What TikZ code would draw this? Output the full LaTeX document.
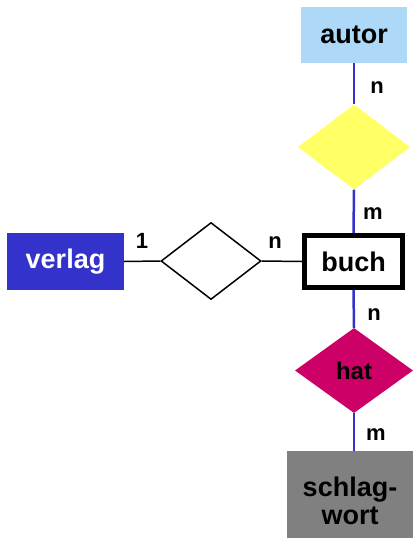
\documentclass[tikz,border=0pt]{standalone}
\usepackage{fontspec}
\setmainfont{Liberation Sans}
\usetikzlibrary{shapes.geometric}
\definecolor{autorblue}{HTML}{ADD8F8}
\definecolor{verlagblue}{HTML}{3333CC}
\definecolor{hatred}{HTML}{CC0066}
\definecolor{diayellow}{HTML}{FFFF66}
\definecolor{swgray}{HTML}{808080}
\definecolor{lineblue}{HTML}{3333CC}
\begin{document}
\begin{tikzpicture}[x=1pt,y=-1pt,
  ent/.style={rectangle,inner sep=0pt,font=\fontsize{27}{28}\selectfont\bfseries,align=center},
  rel/.style={diamond,inner sep=0pt,font=\fontsize{24}{26}\selectfont\bfseries},
  card/.style={font=\fontsize{22}{23}\selectfont\bfseries,inner sep=0pt},
  bl/.style={draw=lineblue,line width=2.5pt},
  kl/.style={draw=black,line width=1.5pt}]
\useasboundingbox (0,0) rectangle (414,538);
\node[ent,fill=autorblue,minimum width=106pt,minimum height=56pt] (autor) at (354,35) {autor};
\node[rel,fill=diayellow,minimum width=112pt,minimum height=85pt] (r1) at (354,147) {};
\node[ent,draw=black,line width=5pt,fill=white,minimum width=98pt,minimum height=52pt] (buch) at (353.5,261.5) {buch};
\node[ent,fill=verlagblue,text=white,minimum width=117pt,minimum height=57pt] (verlag) at (65.5,261.5) {verlag};
\node[rel,draw=black,line width=1.5pt,fill=white,minimum width=100pt,minimum height=77pt] (r2) at (211,261) {};
\node[rel,fill=hatred,minimum width=118pt,minimum height=85pt] (hat) at (354,370.5) {hat};
\node[ent,fill=swgray,minimum width=126pt,minimum height=100pt,anchor=north] (sw) at (350,451) {schlag-\\wort};
\draw[bl] (autor.south) -- (r1.north);
\draw[bl] (r1.south) -- (buch.north);
\draw[bl] (buch.south) -- (hat.north);
\draw[bl] (hat.south) -- (sw.north -| hat.south);
\draw[kl] (verlag.east) -- (r2.west);
\draw[kl] (r2.east) -- (buch.west);
\node[card] (c1) at (377,88) {n};
\node[card] (c2) at (373,214) {m};
\node[card] (c3) at (374,315) {n};
\node[card] (c4) at (376,435) {m};
\node[card] (c5) at (142,241) {1};
\node[card] (c6) at (275,243) {n};
\end{tikzpicture}
\end{document}
